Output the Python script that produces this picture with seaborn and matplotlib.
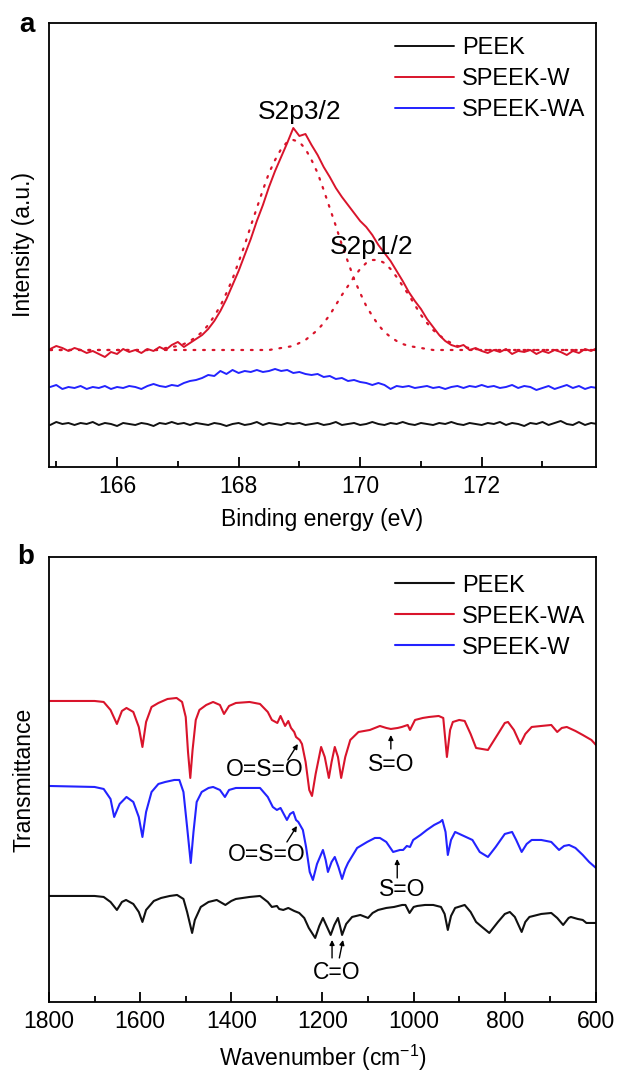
import numpy as np
import pandas as pd
import matplotlib
matplotlib.use("Agg")
import matplotlib.pyplot as plt
from matplotlib.ticker import MultipleLocator
import seaborn as sns

# ---------------- Panel a data (XPS S2p) ----------------
binding_energy = np.round(np.linspace(164.9, 173.9, 91), 1)

xps_peek = [42, 45, 43, 44, 42, 44, 43, 45, 42, 44, 43, 41, 44, 43, 42, 44, 43, 41, 44, 43,
            45, 43, 44, 42, 44, 43, 42, 44, 43, 41, 43, 44, 42, 43, 45, 42, 44, 43, 42, 44,
            43, 44, 42, 43, 44, 42, 43, 45, 42, 43, 44, 42, 43, 45, 43, 42, 44, 43, 45, 43,
            42, 44, 43, 42, 44, 43, 45, 43, 42, 44, 43, 42, 44, 43, 45, 42, 44, 43, 41, 44,
            43, 45, 42, 44, 46, 43, 42, 45, 42, 44, 43]

xps_speek_w = [118, 121, 119, 116, 119, 117, 114, 116, 113, 110, 115, 113, 118, 115, 117, 114, 118, 116, 120, 117,
               122, 125, 120, 124, 128, 132, 138, 146, 156, 168, 182, 196, 212, 228, 246, 262, 280, 296, 310, 324,
               339, 331, 333, 322, 312, 300, 290, 279, 270, 262, 254, 246, 240, 232, 222, 214, 206, 196, 186, 175,
               166, 158, 148, 140, 132, 126, 122, 120, 122, 117, 119, 116, 114, 117, 115, 118, 113, 116, 115, 117,
               113, 116, 114, 117, 115, 112, 116, 114, 118, 116, 119]

xps_speek_wa = [80, 82, 78, 80, 79, 81, 78, 80, 79, 81, 78, 80, 79, 81, 80, 78, 81, 83, 81, 80,
                82, 81, 84, 86, 87, 89, 92, 91, 96, 93, 97, 94, 96, 95, 97, 95, 96, 98, 96, 97,
                94, 95, 93, 92, 93, 90, 91, 88, 89, 86, 87, 85, 84, 82, 84, 82, 78, 81, 80, 81,
                79, 80, 81, 79, 80, 78, 80, 81, 79, 81, 80, 82, 80, 81, 79, 80, 82, 79, 81, 80,
                77, 79, 81, 78, 80, 82, 79, 81, 78, 80, 79]

fit_s2p32 = [117, 117, 117, 117, 117, 117, 117, 117, 117, 117, 117, 117, 117, 117, 117, 117, 117, 117, 117, 119,
             120, 121, 123, 126, 130, 135, 142, 151, 161, 174, 188, 205, 222, 241, 259, 277, 294, 307, 318, 325,
             327, 325, 318, 307, 294, 277, 259, 241, 222, 205, 188, 174, 161, 151, 142, 135, 130, 126, 123, 121,
             120, 119, 118, 117, 117, 117, 117, 117, 117, 117, 117, 117, 117, 117, 117, 117, 117, 117, 117, 117,
             117, 117, 117, 117, 117, 117, 117, 117, 117, 117, 117]

fit_s2p12 = [117, 117, 117, 117, 117, 117, 117, 117, 117, 117, 117, 117, 117, 117, 117, 117, 117, 117, 117, 117,
             117, 117, 117, 117, 117, 117, 117, 117, 117, 117, 117, 117, 117, 117, 117, 117, 117, 118, 119, 120,
             121, 124, 127, 132, 137, 144, 152, 162, 172, 181, 190, 198, 204, 207, 207, 204, 198, 190, 181, 172,
             162, 152, 144, 137, 132, 127, 124, 121, 120, 119, 118, 117, 117, 117, 117, 117, 117, 117, 117, 117,
             117, 117, 117, 117, 117, 117, 117, 117, 117, 117, 117]

# ---------------- Panel b data (FTIR) ----------------
wn_peek = [1800, 1700, 1680, 1665, 1651, 1640, 1631, 1615, 1603, 1595, 1587, 1570, 1554, 1535, 1519, 1505,
           1497, 1486, 1480, 1467, 1450, 1432, 1413, 1400, 1390, 1360, 1337, 1320, 1311, 1300, 1295, 1286,
           1275, 1262, 1251, 1240, 1230, 1216, 1207, 1199, 1190, 1182, 1174, 1166, 1160, 1157, 1148, 1135,
           1117, 1100, 1090, 1078, 1060, 1043, 1025, 1018, 1009, 1000, 992, 975, 957, 940, 932, 925, 918,
           909, 888, 875, 863, 850, 834, 815, 800, 789, 778, 763, 755, 746, 720, 698, 685, 672, 660, 655,
           640, 629, 621, 610, 600]
tr_peek = [106, 106, 105, 100, 92, 100, 102, 98, 90, 80, 92, 101, 104, 106, 107, 103,
           90, 69, 82, 95, 100, 102, 97, 101, 103, 105, 106, 100, 95, 96, 93, 92,
           94, 91, 89, 84, 74, 64, 76, 84, 75, 67, 77, 84, 73, 67, 78, 85,
           87, 84, 89, 92, 94, 95, 97, 97, 89, 95, 96, 97, 97, 95, 88, 72, 86,
           94, 97, 90, 80, 75, 69, 80, 88, 90, 85, 70, 80, 85, 88, 89, 84, 77, 84, 85,
           83, 82, 79, 79, 79]

wn_speek_wa = [1800, 1700, 1680, 1665, 1651, 1640, 1630, 1615, 1603, 1595, 1587, 1575, 1560, 1540, 1520, 1508,
               1500, 1495, 1490, 1485, 1478, 1470, 1455, 1440, 1425, 1416, 1405, 1390, 1360, 1337, 1320, 1311,
               1299, 1292, 1282, 1275, 1269, 1262, 1258, 1250, 1245, 1237, 1229, 1223, 1215, 1203, 1195, 1186,
               1180, 1173, 1166, 1159, 1150, 1139, 1121, 1096, 1074, 1060, 1050, 1035, 1026, 1013, 1008, 997,
               980, 966, 945, 935, 927, 920, 914, 900, 888, 875, 863, 850, 837, 815, 800, 793, 780, 766, 755,
               741, 720, 698, 685, 675, 664, 645, 629, 610, 600]
tr_speek_wa = [301, 301, 300, 292, 278, 291, 294, 290, 275, 255, 280, 295, 299, 303, 304, 300,
               285, 250, 224, 252, 282, 292, 297, 300, 297, 288, 296, 299, 300, 298, 290, 282,
               279, 286, 276, 281, 274, 270, 265, 262, 258, 240, 212, 206, 228, 255, 245, 224,
               240, 255, 245, 224, 245, 262, 270, 272, 276, 274, 273, 274, 275, 277, 272, 282,
               284, 285, 286, 284, 245, 272, 280, 282, 281, 268, 254, 253, 252, 268, 279, 280, 272, 258, 268,
               275, 276, 277, 270, 274, 275, 271, 267, 262, 257]

wn_speek_w = [1800, 1700, 1680, 1665, 1657, 1645, 1630, 1615, 1603, 1595, 1587, 1575, 1560, 1545, 1525, 1514,
              1505, 1497, 1489, 1483, 1476, 1465, 1450, 1440, 1425, 1414, 1405, 1390, 1360, 1337, 1320, 1309,
              1300, 1292, 1278, 1271, 1264, 1258, 1253, 1243, 1236, 1228, 1221, 1212, 1199, 1193, 1188, 1180,
              1173, 1165, 1157, 1150, 1144, 1124, 1102, 1085, 1074, 1060, 1045, 1030, 1023, 1015, 1008, 1001,
              985, 971, 955, 942, 937, 930, 925, 918, 909, 890, 871, 855, 837, 820, 800, 784, 775, 763, 752,
              741, 720, 698, 681, 670, 659, 645, 629, 615, 600]
tr_speek_w = [216, 215, 213, 203, 185, 198, 205, 200, 185, 165, 190, 210, 218, 220, 222, 222,
              210, 175, 139, 170, 200, 210, 214, 215, 212, 205, 212, 214, 214, 214, 205, 195,
              192, 194, 182, 188, 190, 182, 180, 172, 155, 130, 122, 138, 152, 142, 130, 140,
              145, 135, 123, 133, 139, 154, 160, 164, 164, 160, 150, 152, 152, 156, 155, 162,
              167, 172, 177, 180, 182, 170, 147, 162, 170, 166, 162, 150, 145, 155, 168, 170, 162, 150, 158,
              162, 162, 160, 152, 156, 157, 154, 147, 140, 134]

# ---------------- Style ----------------
sns.set_style("white")
plt.rcParams['font.family'] = ['Liberation Sans', 'DejaVu Sans']
plt.rcParams['mathtext.fontset'] = 'custom'
plt.rcParams['mathtext.rm'] = 'Liberation Sans'
plt.rcParams['mathtext.default'] = 'regular'
plt.rcParams['text.color'] = 'black'
plt.rcParams['axes.labelcolor'] = 'black'
plt.rcParams['xtick.color'] = 'black'
plt.rcParams['axes.linewidth'] = 1.3
FS = 16.5
RED = '#d9142b'
BLUE = '#2323ff'
BLACK = '#111111'

fig = plt.figure(figsize=(6.17, 10.79), dpi=100)
ax_a = fig.add_axes([0.0794, 0.5672, 0.8865, 0.4115])
ax_b = fig.add_axes([0.0794, 0.0714, 0.8865, 0.4124])

# ---- panel a ----
df_a = pd.DataFrame({
    'E': np.concatenate([binding_energy] * 3),
    'I': np.concatenate([xps_peek, xps_speek_w, xps_speek_wa]),
    'sample': ['PEEK'] * 91 + ['SPEEK-W'] * 91 + ['SPEEK-WA'] * 91,
})
df_fit = pd.DataFrame({
    'E': np.concatenate([binding_energy] * 2),
    'I': np.concatenate([fit_s2p32, fit_s2p12]),
    'comp': ['S2p3/2'] * 91 + ['S2p1/2'] * 91,
})
for comp in ['S2p3/2', 'S2p1/2']:
    sub = df_fit[df_fit['comp'] == comp]
    sns.lineplot(data=sub, x='E', y='I', ax=ax_a, color=RED, lw=1.6,
                 linestyle=(0, (0.8, 3.5)), dash_capstyle='round', estimator=None, legend=False)
sns.lineplot(data=df_a, x='E', y='I', hue='sample', ax=ax_a,
             palette={'PEEK': BLACK, 'SPEEK-W': RED, 'SPEEK-WA': BLUE},
             hue_order=['PEEK', 'SPEEK-W', 'SPEEK-WA'], lw=1.4, estimator=None)

ax_a.set_xlim(164.88, 173.88)
ax_a.set_ylim(0, 444)
ax_a.set_yticks([])
ax_a.xaxis.set_major_locator(MultipleLocator(2))
ax_a.xaxis.set_minor_locator(MultipleLocator(1))
ax_a.set_xlabel('Binding energy (eV)', fontsize=FS, labelpad=7)
ax_a.set_ylabel('Intensity (a.u.)', fontsize=FS, labelpad=10)
ax_a.text(169.0, 355, 'S2p3/2', fontsize=19, ha='center', va='center')
ax_a.text(170.19, 220, 'S2p1/2', fontsize=19, ha='center', va='center')
LEG_KW = dict(loc='upper right', frameon=False, fontsize=17,
              handlelength=2.5, handletextpad=0.35, labelspacing=0.38,
              borderpad=0.2, borderaxespad=0.25)
ax_a.legend(bbox_to_anchor=(1.0, 0.992), **LEG_KW)

# ---- panel b ----
df_b = pd.concat([
    pd.DataFrame({'wn': wn_peek, 'T': tr_peek, 'sample': 'PEEK'}),
    pd.DataFrame({'wn': wn_speek_wa, 'T': tr_speek_wa, 'sample': 'SPEEK-WA'}),
    pd.DataFrame({'wn': wn_speek_w, 'T': tr_speek_w, 'sample': 'SPEEK-W'}),
], ignore_index=True)
sns.lineplot(data=df_b, x='wn', y='T', hue='sample', ax=ax_b,
             palette={'PEEK': BLACK, 'SPEEK-WA': RED, 'SPEEK-W': BLUE},
             hue_order=['PEEK', 'SPEEK-WA', 'SPEEK-W'], lw=1.5, estimator=None)
ax_b.set_xlim(1800, 600)
ax_b.set_ylim(0, 445)
ax_b.set_yticks([])
ax_b.xaxis.set_major_locator(MultipleLocator(200))
ax_b.xaxis.set_minor_locator(MultipleLocator(100))
ax_b.set_xlabel('Wavenumber (cm$^{-1}$)', fontsize=FS, labelpad=7)
ax_b.set_ylabel('Transmittance', fontsize=FS, labelpad=10)
ax_b.legend(bbox_to_anchor=(1.0, 0.984), **LEG_KW)

arrow_kw = dict(arrowstyle='-|>', color='k', lw=1.0, mutation_scale=7, shrinkA=0, shrinkB=0)
AFS = 16.5
# red O=S=O
ax_b.annotate('', xy=(1254, 258), xytext=(1276, 242), arrowprops=arrow_kw)
ax_b.text(1326, 232, 'O=S=O', fontsize=AFS, ha='center', va='center')
# red S=O
ax_b.annotate('', xy=(1050, 267), xytext=(1050, 253), arrowprops=arrow_kw)
ax_b.text(1050, 237, 'S=O', fontsize=AFS, ha='center', va='center')
# blue O=S=O
ax_b.annotate('', xy=(1256, 176), xytext=(1278, 160), arrowprops=arrow_kw)
ax_b.text(1322, 147, 'O=S=O', fontsize=AFS, ha='center', va='center')
# blue S=O
ax_b.annotate('', xy=(1036, 143), xytext=(1036, 124), arrowprops=arrow_kw)
ax_b.text(1024, 112, 'S=O', fontsize=AFS, ha='center', va='center')
# black C=O
ax_b.annotate('', xy=(1179, 62), xytext=(1179, 44), arrowprops=arrow_kw)
ax_b.annotate('', xy=(1155, 62), xytext=(1163, 44), arrowprops=arrow_kw)
ax_b.text(1169, 29, 'C=O', fontsize=AFS, ha='center', va='center')

for ax in (ax_a, ax_b):
    for s in ax.spines.values():
        s.set_visible(True)
        s.set_color('black')
        s.set_linewidth(1.3)
    ax.tick_params(axis='x', which='major', direction='in', length=7, width=1.3,
                   labelsize=FS, pad=6, top=False, bottom=True, colors='black')
    ax.tick_params(axis='x', which='minor', direction='in', length=4, width=1.3,
                   top=False, bottom=True)
    ax.tick_params(axis='y', left=False, right=False)

fig.text(27 / 617, 1 - 25 / 1079, 'a', fontsize=20, fontweight='bold', ha='center', va='center')
fig.text(26 / 617, 1 - 557 / 1079, 'b', fontsize=20, fontweight='bold', ha='center', va='center')

fig.savefig('out.png', dpi=100, facecolor='white')
